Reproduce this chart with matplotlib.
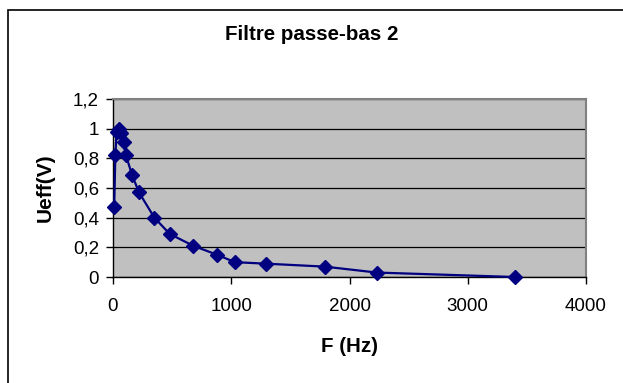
import matplotlib.pyplot as plt
from matplotlib.patches import Rectangle
from matplotlib.ticker import FuncFormatter

# ── data ────────────────────────────────────────────────────
freq = [10, 20, 30, 50, 70, 90, 110, 160, 220, 350, 480, 680, 880,
        1030, 1290, 1790, 2230, 3400]
ueff = [0.47, 0.82, 0.98, 1.0, 0.97, 0.91, 0.82, 0.69, 0.57, 0.40, 0.29,
        0.21, 0.15, 0.10, 0.09, 0.07, 0.03, 0.0]
x_ticks = [0, 1000, 2000, 3000, 4000]
y_ticks = [0, 0.2, 0.4, 0.6, 0.8, 1.0, 1.2]

plt.rcParams['font.family'] = ['Liberation Sans', 'DejaVu Sans']

fig = plt.figure(figsize=(6.23, 3.83), dpi=100)
# outer chart frame (right/bottom edges fall outside the picture)
fig.patches.append(Rectangle((8 / 623, -0.05), 1.0, 1 - 10 / 383 + 0.05,
                             transform=fig.transFigure, fill=False,
                             edgecolor='black', linewidth=1.2))

ax = fig.add_axes([113 / 623, 1 - 277 / 383, 473 / 623, 178 / 383])
ax.set_facecolor('#C0C0C0')
ax.plot(freq, ueff, color='#000080', linewidth=1.6, marker='D',
        markersize=7.5, zorder=3, clip_on=False)

ax.set_xlim(0, 4000)
ax.set_ylim(0, 1.2)
ax.set_xticks(x_ticks)
ax.set_yticks(y_ticks)
ax.yaxis.set_major_formatter(FuncFormatter(
    lambda v, p: ('%g' % round(v, 1)).replace('.', ',')))
ax.grid(axis='y', color='black', linewidth=0.9)
ax.set_axisbelow(True)
ax.tick_params(direction='out', length=5, width=1, labelsize=13.5,
               colors='black')
ax.tick_params(axis='x', pad=10)
ax.tick_params(axis='y', pad=5)

for side in ['top', 'right']:
    ax.spines[side].set_color('#808080')
    ax.spines[side].set_linewidth(1.5)
for side in ['left', 'bottom']:
    ax.spines[side].set_color('black')
    ax.spines[side].set_linewidth(1)

ax.set_xlabel("F (Hz)", fontsize=14.8, fontweight='bold', labelpad=16)
ax.set_ylabel("Ueff(V)", fontsize=15, fontweight='bold', labelpad=13)
fig.text(0.5, 1 - 35 / 383, "Filtre passe-bas 2", ha='center', va='center',
         fontsize=14.8, fontweight='bold')

fig.savefig("out.png", dpi=100)
